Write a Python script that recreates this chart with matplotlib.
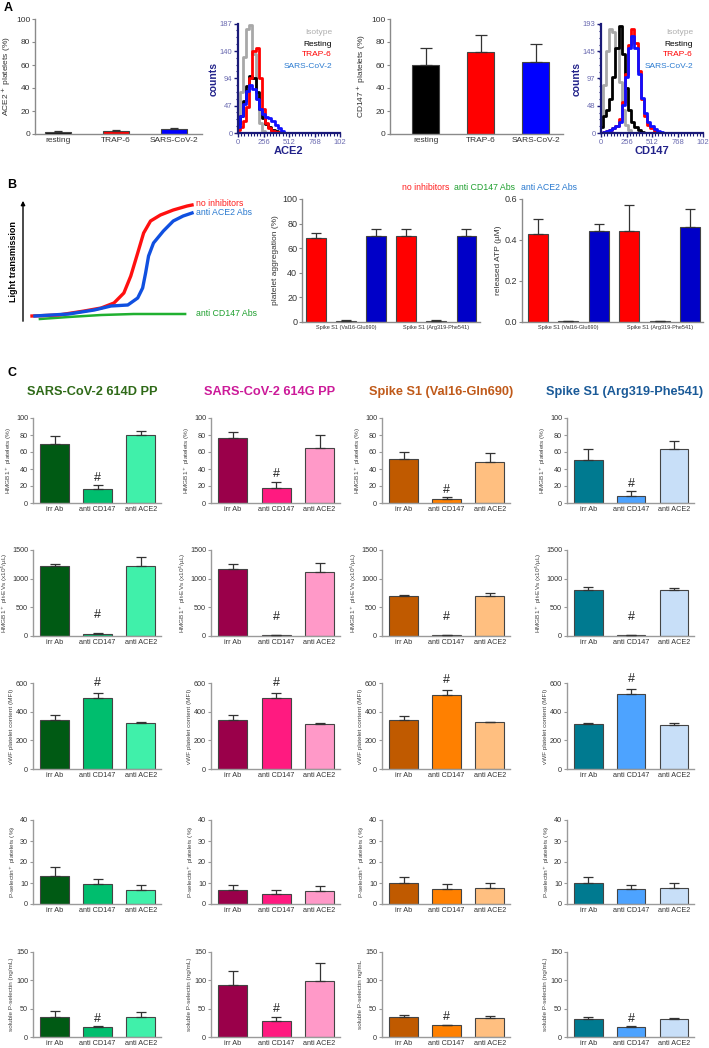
import matplotlib
matplotlib.use("Agg")
import matplotlib.pyplot as plt
from matplotlib.ticker import AutoMinorLocator

plt.rcParams['font.family'] = ['Liberation Sans', 'DejaVu Sans']

W, H = 709, 1048
fig = plt.figure(figsize=(W / 100, H / 100), dpi=100)
TITLE_SIZE = 9.2

# ---------------- data: panel A ----------------
a_groups = ['resting', 'TRAP-6', 'SARS-CoV-2']
a_colors = ['#000000', '#ff0000', '#0000ff']
ace2_mean = [2, 3, 4]
ace2_err = [1, 0.6, 1.5]
cd147_mean = [60, 71, 63]
cd147_err = [15, 15, 15]

hist_bins = [0, 32, 64, 96, 128, 160, 192, 224, 256, 288, 320, 352, 384, 416,
             448, 480, 512, 544, 576, 608, 640]
hist_names = ['Isotype', 'Resting', 'TRAP-6', 'SARS-CoV-2']
hist_line_colors = ['#a8a8a8', '#000000', '#ff0000', '#1010ff']
hist_text_colors = ['#b0b0b0', '#000000', '#ff0000', '#2a7ad0']
ace2_hist = [
    [25, 70, 130, 178, 186, 135, 60, 18, 4, 0, 0, 0, 0, 0, 0, 0, 0, 0, 0, 0, 0],
    [15, 30, 55, 80, 98, 95, 70, 42, 25, 15, 10, 6, 3, 1, 0, 0, 0, 0, 0, 0, 0],
    [5, 10, 20, 45, 95, 140, 145, 95, 42, 18, 8, 4, 2, 1, 0, 0, 0, 0, 0, 0, 0],
    [10, 30, 50, 72, 82, 75, 58, 42, 32, 28, 25, 20, 14, 8, 3, 0, 0, 0, 0, 0, 0],
]
cd147_hist = [
    [30, 85, 145, 185, 178, 150, 90, 40, 15, 5, 0, 0, 0, 0, 0, 0, 0, 0, 0, 0, 0],
    [10, 30, 40, 60, 100, 150, 190, 140, 80, 40, 20, 10, 5, 2, 0, 0, 0, 0, 0, 0, 0],
    [0, 2, 3, 5, 8, 12, 25, 55, 105, 155, 185, 160, 110, 60, 30, 15, 8, 4, 2, 0, 0],
    [0, 2, 3, 5, 8, 12, 20, 50, 100, 150, 172, 150, 105, 62, 35, 20, 12, 7, 4, 2, 0],
]

# ---------------- data: panel B ----------------
trace_red_t = [0, 27, 53, 70, 83, 93, 100, 107, 113, 120, 130, 143, 157, 162]
trace_red_y = [7, 8, 12, 15, 20, 30, 47, 70, 90, 102, 108, 113, 117, 118]
trace_blue_t = [3, 37, 63, 80, 97, 107, 112, 115, 118, 123, 133, 143, 153, 162]
trace_blue_y = [7, 9, 13, 17, 18, 25, 35, 50, 67, 80, 92, 102, 107, 110]
trace_green_t = [8, 37, 70, 103, 137, 155]
trace_green_y = [4, 6, 8, 9, 9, 9]

b_bar_colors = ['#ff0000', '#10a040', '#0000c8'] * 2
b_groups = ['Spike S1 (Val16-Glu690)', 'Spike S1 (Arg319-Phe541)']
aggr_mean = [68, 1, 70, 70, 1, 70]
aggr_err = [4.5, 0.5, 5.5, 5.5, 0.5, 5.5]
atp_mean = [0.43, 0.005, 0.445, 0.445, 0.005, 0.463]
atp_err = [0.07, 0.002, 0.032, 0.125, 0.002, 0.09]

# ---------------- data: panel C ----------------
c_titles = ['SARS-CoV-2 614D PP', 'SARS-CoV-2 614G PP',
            'Spike S1 (Val16-Gln690)', 'Spike S1 (Arg319-Phe541)']
c_title_colors = ['#2f6a18', '#cc1a99', '#c05a1a', '#1a5a98']
c_bar_colors = [
    ['#005a14', '#00be6e', '#40f0aa'],
    ['#9a004a', '#ff1a80', '#ff99c8'],
    ['#c05a00', '#ff8000', '#ffbf80'],
    ['#007a90', '#4da3ff', '#c8dff8'],
]
c_groups = ['irr Ab', 'anti CD147', 'anti ACE2']
c_ylabels = ['HMGB1$^+$ platelets (%)', 'HMGB1$^+$ plt-EVs (x10$^4$/µL)',
             'vWF platelet content (MFI)', 'P-selectin$^+$ platelets (%)',
             'soluble P-selectin (ng/mL)']
c_ylims = [100, 1500, 600, 40, 150]
c_yticks = [[0, 20, 40, 60, 80, 100], [0, 500, 1000, 1500], [0, 200, 400, 600],
            [0, 10, 20, 30, 40], [0, 50, 100, 150]]
c_hash = [True, True, True, False, True]

hmgb1_plt_mean = [[69, 17, 80], [77, 18, 65], [52, 5, 48], [51, 8, 64]]
hmgb1_plt_err = [[10, 4, 5], [7, 7, 15], [8, 2, 11], [13, 6, 9]]
hmgb1_ev_mean = [[1220, 40, 1220], [1170, 10, 1110], [690, 10, 690], [810, 10, 800]]
hmgb1_ev_err = [[40, 10, 150], [80, 5, 160], [30, 5, 60], [40, 5, 40]]
vwf_mean = [[345, 495, 320], [345, 495, 315], [345, 515, 325], [315, 520, 310]]
vwf_err = [[30, 35, 10], [30, 35, 8], [25, 35, 4], [4, 35, 10]]
psel_plt_mean = [[13.5, 9.5, 6.5], [6.5, 4.8, 6.3], [10, 7.3, 7.5], [10, 7.2, 7.5]]
psel_plt_err = [[4, 2.5, 2.5], [2.5, 2, 2.3], [3, 2, 2.5], [3, 2, 2.5]]
sol_psel_mean = [[36, 17, 35], [91, 29, 99], [36, 21, 34], [32, 18, 32]]
sol_psel_err = [[10, 2, 10], [25, 7, 31], [3, 1, 3], [3, 1, 2]]

c_means = [hmgb1_plt_mean, hmgb1_ev_mean, vwf_mean, psel_plt_mean, sol_psel_mean]
c_errs = [hmgb1_plt_err, hmgb1_ev_err, vwf_err, psel_plt_err, sol_psel_err]


def add_ax(left, top, right, bottom):
    return fig.add_axes([left / W, 1 - bottom / H, (right - left) / W, (bottom - top) / H])


def prism(ax, color='#8a8a8a', size=5.5):
    for s in ['top', 'right']:
        ax.spines[s].set_visible(False)
    for s in ['left', 'bottom']:
        ax.spines[s].set_color(color)
        ax.spines[s].set_linewidth(1.0)
    ax.tick_params(axis='y', length=2.5, width=0.8, color=color, labelsize=size,
                   pad=1, labelcolor='#333333')
    ax.tick_params(axis='x', length=0, labelsize=size, pad=2, labelcolor='#333333')


def bars(ax, x, mean, err, colors, width, capsize=3.5):
    ax.bar(x, mean, width=width, color=colors, edgecolor='#444444', linewidth=0.8, zorder=2)
    ax.errorbar(x, mean, yerr=[[0] * len(err), err], fmt='none', ecolor='#333333',
                elinewidth=0.9, capsize=capsize, capthick=0.9, zorder=3)


# ---------------- panel A ----------------
fig.text(4 / W, 1 - 8 / H, 'A', fontsize=9, fontweight='bold', va='center')

ax = add_ax(35, 19, 202, 134)
bars(ax, range(3), ace2_mean, ace2_err, a_colors, 0.45, capsize=3)
ax.set_xlim(-0.4, 2.48)
ax.set_ylim(0, 100)
ax.set_yticks([0, 20, 40, 60, 80, 100])
ax.set_xticks(range(3), a_groups)
prism(ax, size=6)
ax.set_ylabel('ACE2$^+$ platelets (%)', fontsize=6, labelpad=2, color='#333333')

ax = add_ax(390, 19, 563, 134)
bars(ax, range(3), cd147_mean, cd147_err, a_colors, 0.5, capsize=4)
ax.set_xlim(-0.65, 2.5)
ax.set_ylim(0, 100)
ax.set_yticks([0, 20, 40, 60, 80, 100])
ax.set_xticks(range(3), a_groups)
prism(ax, size=6)
ax.set_ylabel('CD147$^+$ platelets (%)', fontsize=6, labelpad=2, color='#333333')


def histo(ax, curves, ymax, yticks, xlabel, text_right):
    for vals, col in zip(curves, hist_line_colors):
        ax.plot(hist_bins, vals, color=col, lw=2.0, drawstyle='steps-mid', zorder=2)
    ax.set_xlim(0, 1024)
    ax.set_ylim(0, ymax)
    ax.set_xticks([0, 256, 512, 768, 1024], ['0', '256', '512', '768', '102'])
    ax.set_yticks(yticks)
    ax.xaxis.set_minor_locator(AutoMinorLocator(8))
    ax.yaxis.set_minor_locator(AutoMinorLocator(4))
    for s in ['top', 'right']:
        ax.spines[s].set_visible(False)
    for s in ['left', 'bottom']:
        ax.spines[s].set_color('#1a1a78')
        ax.spines[s].set_linewidth(1.6)
    ax.tick_params(which='major', length=3, width=1, color='#1a1a78',
                   labelsize=5.5, labelcolor='#6a6ab0', pad=1)
    ax.tick_params(which='minor', length=1.8, width=0.8, color='#1a1a78')
    ax.set_ylabel('counts', fontsize=7.5, fontweight='bold', color='#22228a', labelpad=1)
    ax.set_xlabel(xlabel, fontsize=8, fontweight='bold', color='#22228a', labelpad=0)
    for i, (name, col) in enumerate(zip(hist_names, hist_text_colors)):
        fig.text(text_right / W, 1 - (33 + 11 * i) / H, name, fontsize=6, color=col,
                 ha='right', va='center')


ax = add_ax(238, 24, 340, 133)
histo(ax, ace2_hist, 187, [0, 47, 94, 140, 187], 'ACE2', 332)
ax = add_ax(601, 24, 703, 133)
histo(ax, cd147_hist, 193, [0, 48, 97, 145, 193], 'CD147', 693)

# ---------------- panel B ----------------
fig.text(7 / W, 1 - 185 / H, 'B', fontsize=9, fontweight='bold', va='center')

ax = add_ax(30, 198, 195, 323)
ax.plot(trace_green_t, trace_green_y, color='#20b030', lw=1.8)
ax.plot(trace_red_t, trace_red_y, color='#ff1010', lw=2.4)
ax.plot(trace_blue_t, trace_blue_y, color='#1050e0', lw=2.4)
ax.set_xlim(-2, 165)
ax.set_ylim(0, 125)
ax.axis('off')
fig.add_artist(matplotlib.patches.FancyArrowPatch(
    (23 / W, 1 - 324 / H), (23 / W, 1 - 198 / H), transform=fig.transFigure,
    arrowstyle='-|>', mutation_scale=6, lw=1, color='black'))
fig.text(14 / W, 1 - 262 / H, 'Light transmission', rotation=90, fontsize=6.5,
         fontweight='bold', ha='center', va='center')
fig.text(196 / W, 1 - 203 / H, 'no inhibitors', fontsize=6.3, color='#ff2020', va='center')
fig.text(196 / W, 1 - 212 / H, 'anti ACE2 Abs', fontsize=6.3, color='#2a7ad0', va='center')
fig.text(196 / W, 1 - 313 / H, 'anti CD147 Abs', fontsize=6.3, color='#20a030', va='center')

fig.text(402 / W, 1 - 187 / H, 'no inhibitors', fontsize=6.3, color='#ff2020', va='center')
fig.text(454 / W, 1 - 187 / H, 'anti CD147 Abs', fontsize=6.3, color='#20a030', va='center')
fig.text(521 / W, 1 - 187 / H, 'anti ACE2 Abs', fontsize=6.3, color='#2a7ad0', va='center')

ax = add_ax(302, 199, 480, 322)
bars(ax, range(6), aggr_mean, aggr_err, b_bar_colors, 0.66, capsize=3.5)
ax.set_xlim(-0.47, 5.45)
ax.set_ylim(0, 100)
ax.set_yticks([0, 20, 40, 60, 80, 100])
ax.set_xticks([1, 4], b_groups)
prism(ax, size=6.5)
ax.tick_params(axis='x', labelsize=4)
ax.set_ylabel('platelet aggregation (%)', fontsize=6, labelpad=2, color='#333333')

ax = add_ax(522, 199, 703, 322)
bars(ax, range(6), atp_mean, atp_err, b_bar_colors, 0.66, capsize=3.5)
ax.set_xlim(-0.53, 5.43)
ax.set_ylim(0, 0.6)
ax.set_yticks([0.0, 0.2, 0.4, 0.6])
ax.set_xticks([1, 4], b_groups)
prism(ax, size=6.5)
ax.tick_params(axis='x', labelsize=4)
ax.set_ylabel('released ATP (µM)', fontsize=6, labelpad=2, color='#333333')

# ---------------- panel C ----------------
fig.text(7 / W, 1 - 373 / H, 'C', fontsize=9, fontweight='bold', va='center')

col_left = [33, 211, 382, 567]
col_right = [161, 340, 510, 694]
title_x = [92, 270, 441, 625]
row_top = [418, 550, 683, 820, 952]
row_bottom = [503, 636, 769, 904, 1037]
hash_offset = [1, 9, 3, 0, 1]

for c in range(4):
    fig.text(title_x[c] / W, 1 - 392 / H, c_titles[c], fontsize=TITLE_SIZE, fontweight='bold',
             color=c_title_colors[c], ha='center', va='center')
    for r in range(5):
        ax = add_ax(col_left[c], row_top[r], col_right[c], row_bottom[r])
        mean = c_means[r][c]
        err = c_errs[r][c]
        bars(ax, range(3), mean, err, c_bar_colors[c], 0.67, capsize=3.5)
        ax.set_xlim(-0.5, 2.47)
        ax.set_ylim(0, c_ylims[r])
        ax.set_yticks(c_yticks[r])
        ax.set_xticks(range(3), c_groups)
        prism(ax, color='#9a9a9a', size=5.2)
        label = c_ylabels[r]
        if r == 4 and c == 2:
            label = 'soluble P-selectin ng/mL'
        ax.set_ylabel(label, fontsize=4.6, labelpad=1.5, color='#444444')
        if c_hash[r]:
            ax.annotate('#', (1, mean[1] + err[1]), xytext=(0, hash_offset[r]),
                        textcoords='offset points', ha='center', va='bottom',
                        fontsize=9, color='#222222', annotation_clip=False)

fig.savefig('out.png', dpi=100)
